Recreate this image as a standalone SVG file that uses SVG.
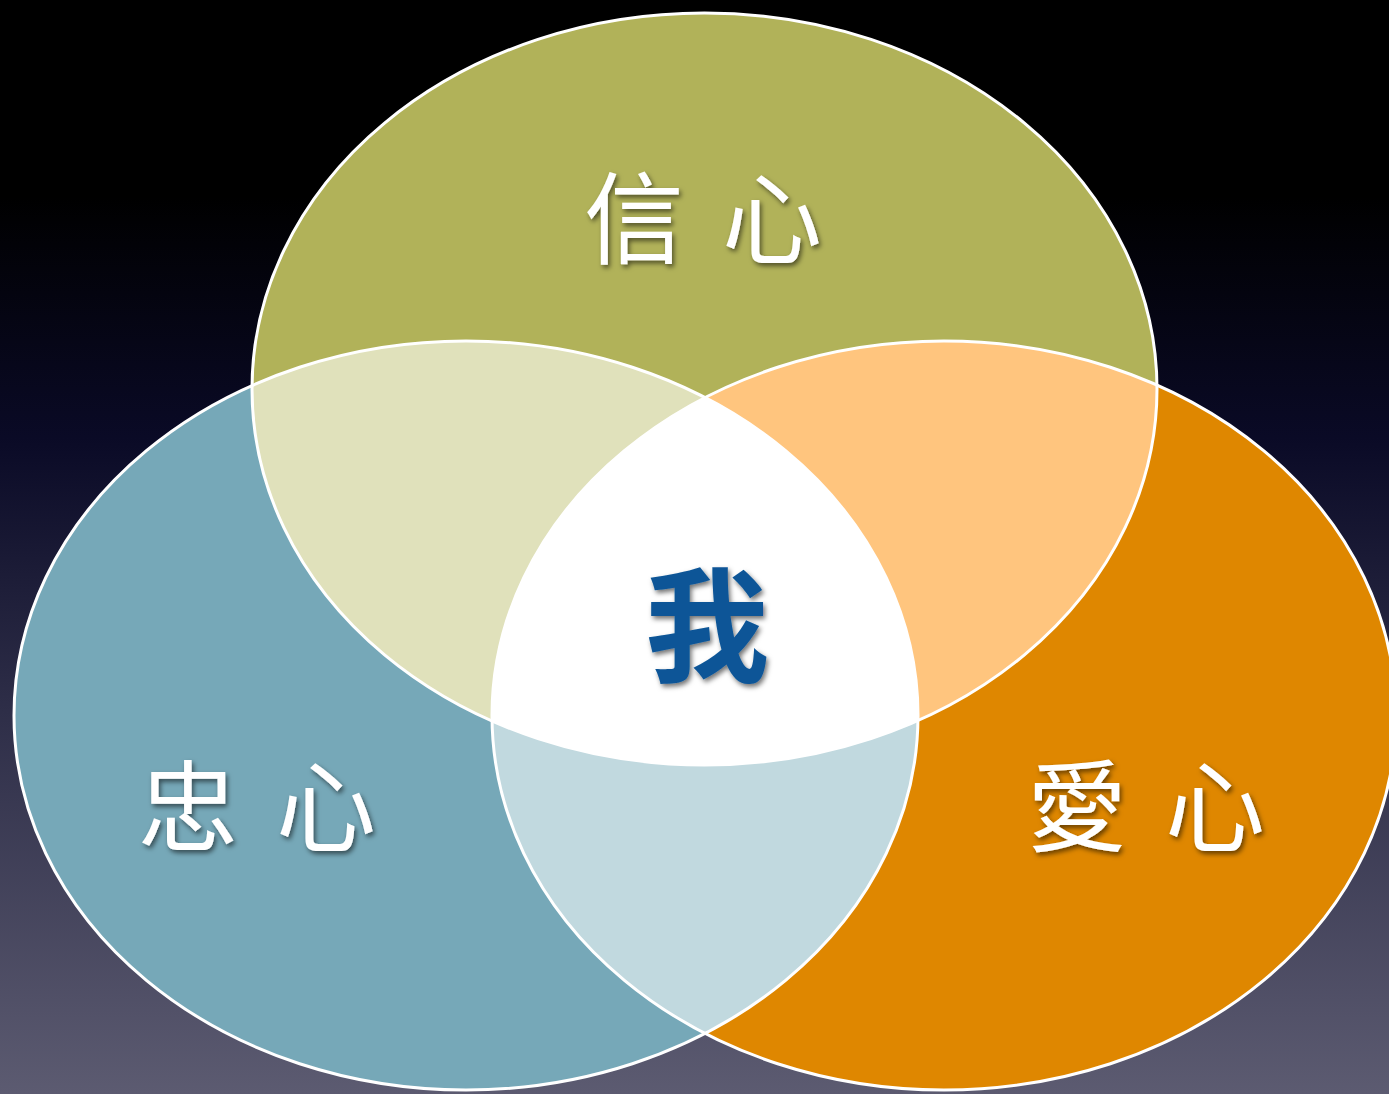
<svg xmlns="http://www.w3.org/2000/svg" width="1389" height="1094" viewBox="0 0 1389 1094">
  <defs>
    <linearGradient id="bg" x1="0" y1="0" x2="0" y2="1">
      <stop offset="0" stop-color="#000000"/>
      <stop offset="0.18" stop-color="#000000"/>
      <stop offset="0.4" stop-color="#0a0a26"/>
      <stop offset="0.65" stop-color="#2e2e48"/>
      <stop offset="1" stop-color="#5c5b71"/>
    </linearGradient>
    <clipPath id="cT"><ellipse cx="704.5" cy="389" rx="452.5" ry="376"/></clipPath>
    <clipPath id="cL"><ellipse cx="466" cy="715.5" rx="452" ry="374.5"/></clipPath>
    <clipPath id="cR"><ellipse cx="944" cy="715.5" rx="452" ry="374.5"/></clipPath>
    <filter id="sh" x="-20%" y="-20%" width="140%" height="140%">
      <feDropShadow dx="2" dy="3" stdDeviation="2.5" flood-color="#000" flood-opacity="0.55"/>
    </filter>
    <style>
      .lbl { font-family: "Noto Sans CJK TC", "Noto Sans CJK SC", sans-serif; font-size: 100px; font-weight: 400; fill: #ffffff; letter-spacing: 38px; filter: url(#sh); }
      .me { font-family: "Noto Sans CJK TC", "Noto Sans CJK SC", sans-serif; font-size: 124px; font-weight: 600; fill: #0b5597; filter: url(#sh); }
      .edge { fill: none; stroke: #ffffff; stroke-width: 3; }
    </style>
  </defs>
  <rect x="0" y="0" width="1389" height="1094" fill="url(#bg)"/>

  <g id="circle-faith">
    <ellipse cx="704.5" cy="389" rx="452.5" ry="376" fill="#b1b259"/>
  </g>
  <g id="circle-loyalty">
    <ellipse cx="466" cy="715.5" rx="452" ry="374.5" fill="#76a8b8"/>
  </g>
  <g id="circle-love">
    <ellipse cx="944" cy="715.5" rx="452" ry="374.5" fill="#df8700"/>
  </g>

  <g id="overlap-faith-loyalty">
    <ellipse cx="466" cy="715.5" rx="452" ry="374.5" fill="#e0e1bb" clip-path="url(#cT)"/>
  </g>
  <g id="overlap-faith-love">
    <ellipse cx="944" cy="715.5" rx="452" ry="374.5" fill="#ffc57e" clip-path="url(#cT)"/>
  </g>
  <g id="overlap-loyalty-love">
    <ellipse cx="944" cy="715.5" rx="452" ry="374.5" fill="#c1d9df" clip-path="url(#cL)"/>
  </g>
  <g id="overlap-center">
    <g clip-path="url(#cT)">
      <ellipse cx="944" cy="715.5" rx="452" ry="374.5" fill="#ffffff" clip-path="url(#cL)"/>
    </g>
  </g>

  <g id="outlines">
    <ellipse class="edge" cx="704.5" cy="389" rx="452.5" ry="376"/>
    <ellipse class="edge" cx="466" cy="715.5" rx="452" ry="374.5"/>
    <ellipse class="edge" cx="944" cy="715.5" rx="452" ry="374.5"/>
  </g>

  <g id="label-faith"><text class="lbl" x="584" y="256">信心</text></g>
  <g id="label-loyalty"><text class="lbl" x="138" y="844">忠心</text></g>
  <g id="label-love"><text class="lbl" x="1027" y="844">愛心</text></g>
  <g id="label-me"><text class="me" x="645" y="672">我</text></g>
</svg>
